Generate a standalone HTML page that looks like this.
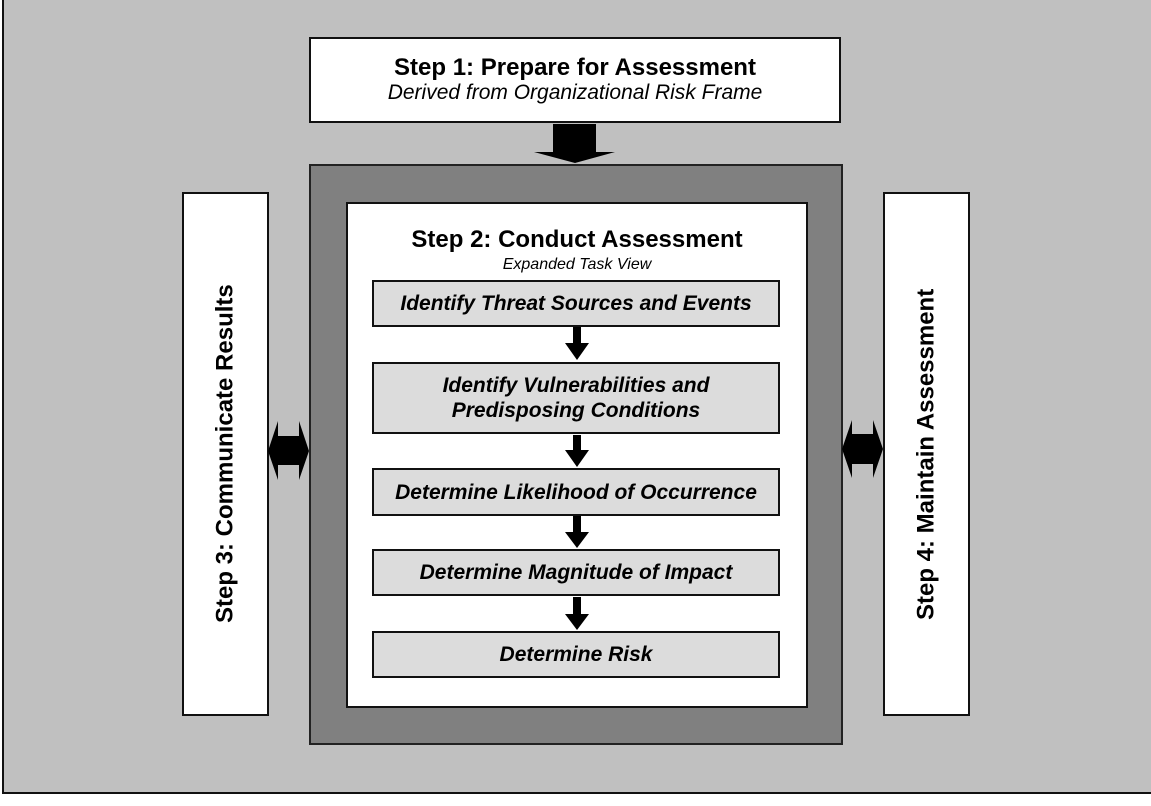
<!DOCTYPE html>
<html><head><style>
body{margin:0;width:1151px;height:806px;background:#fff;overflow:hidden;font-family:"Liberation Sans",Arial,sans-serif}
.a{position:absolute;box-sizing:border-box}
.t{display:flex;align-items:center;justify-content:center;text-align:center;font-weight:bold;font-style:italic;font-size:21px;background:#dcdcdc;border:2px solid #111;left:372px;width:408px;line-height:25px;white-space:nowrap}
.v{writing-mode:vertical-rl;transform:rotate(180deg);font-weight:bold;font-size:24px;display:flex;align-items:center;justify-content:center;white-space:nowrap}
</style></head><body>
<div class="a" style="left:2px;top:0;width:1160px;height:794px;background:#c0c0c0;border:2px solid #111;border-top:none"></div>
<div class="a" style="left:309px;top:37px;width:532px;height:86px;background:#fff;border:2px solid #111;text-align:center;padding-top:15px">
<div style="font-weight:bold;font-size:24px;line-height:27px">Step 1: Prepare for Assessment</div>
<div style="font-style:italic;font-size:21px;line-height:24px">Derived from Organizational Risk Frame</div></div>
<div class="a" style="left:309px;top:164px;width:534px;height:581px;background:#808080;border:2px solid #222"></div>
<div class="a" style="left:346px;top:202px;width:462px;height:506px;background:#fff;border:2px solid #111;text-align:center;padding-top:22px">
<div style="font-weight:bold;font-size:24px;line-height:28px">Step 2: Conduct Assessment</div>
<div style="font-style:italic;font-size:16px;line-height:19px;margin-top:1px">Expanded Task View</div></div>
<div class="a t" style="top:280px;height:47px">Identify Threat Sources and Events</div>
<div class="a t" style="top:362px;height:72px">Identify Vulnerabilities and<br>Predisposing Conditions</div>
<div class="a t" style="top:468px;height:48px">Determine Likelihood of Occurrence</div>
<div class="a t" style="top:549px;height:47px">Determine Magnitude of Impact</div>
<div class="a t" style="top:631px;height:47px">Determine Risk</div>
<div class="a" style="left:182px;top:192px;width:87px;height:524px;background:#fff;border:2px solid #111"><div class="v" style="width:100%;height:100%">Step 3: Communicate Results</div></div>
<div class="a" style="left:883px;top:192px;width:87px;height:524px;background:#fff;border:2px solid #111"><div class="v" style="width:100%;height:100%">Step 4: Maintain Assessment</div></div>
<svg class="a" style="left:0;top:0" width="1151" height="806">
<g fill="#000">
<polygon points="553,124 596,124 596,152 615,152 575,163 534,152 553,152"/>
<polygon points="573,327 581,327 581,343 589,343 577,360 565,343 573,343"/>
<polygon points="573,435 581,435 581,450 589,450 577,467 565,450 573,450"/>
<polygon points="573,516 581,516 581,532 589,532 577,548 565,532 573,532"/>
<polygon points="573,597 581,597 581,614 589,614 577,630 565,614 573,614"/>
<polygon points="268,451 278,421 278,436 299,436 299,421 309,451 299,480 299,465 278,465 278,480"/>
<polygon points="842,449 852,420 852,434 873,434 873,420 883,449 873,478 873,464 852,464 852,478"/>
</g></svg>
</body></html>
